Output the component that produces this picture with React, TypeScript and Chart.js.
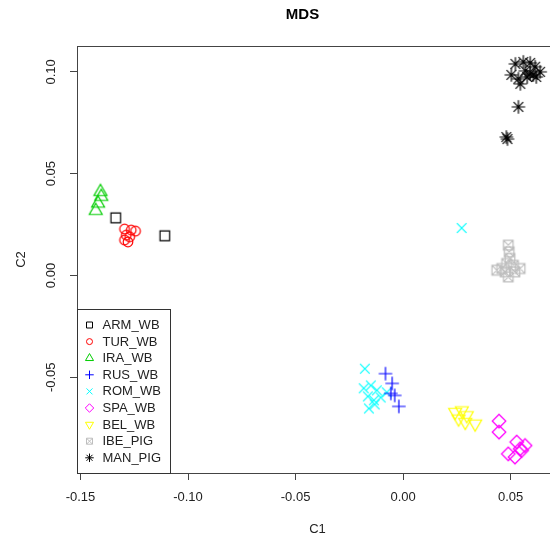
import React, { useEffect, useRef } from 'react';
import { Chart, registerables } from 'chart.js';

Chart.register(...registerables);

// ---- data -------------------------------------------------------------
const seriesNames = ['ARM_WB', 'TUR_WB', 'IRA_WB', 'RUS_WB', 'ROM_WB', 'SPA_WB', 'BEL_WB', 'IBE_PIG', 'MAN_PIG'];
const seriesColors = ['#000000', '#FF0000', '#00CD00', '#0000FF', '#00FFFF', '#FF00FF', '#FFFF00', '#BEBEBE', '#000000'];
const seriesSymbols = [0, 1, 2, 3, 4, 5, 6, 7, 8]; // R pch codes

const armC1 = [-0.1336, -0.1108];
const armC2 = [0.0283, 0.0195];

const turC1 = [-0.1295, -0.1264, -0.1244, -0.1287, -0.1271, -0.1295, -0.1279];
const turC2 = [0.0228, 0.0223, 0.0218, 0.0198, 0.019, 0.0174, 0.0165];

const iraC1 = [-0.1407, -0.1403, -0.1418, -0.1429];
const iraC2 = [0.0411, 0.0387, 0.0354, 0.0318];

const rusC1 = [-0.0082, -0.0051, -0.0057, -0.0039, -0.002];
const rusC2 = [-0.0482, -0.053, -0.0579, -0.0589, -0.0643];

const romC1 = [-0.0178, -0.0183, -0.015, -0.0122, -0.0164, -0.0136, -0.0104, -0.0159, -0.0132, -0.0076, 0.0272];
const romC2 = [-0.0458, -0.0554, -0.054, -0.0564, -0.0594, -0.0613, -0.0599, -0.0653, -0.0633, -0.0574, 0.0233];

const spaC1 = [0.0446, 0.0446, 0.0528, 0.0567, 0.0544, 0.0489, 0.052, 0.0551];
const spaC2 = [-0.0715, -0.0769, -0.0818, -0.0835, -0.0851, -0.0876, -0.0892, -0.0859];

const belC1 = [0.0242, 0.0273, 0.0296, 0.0258, 0.0289, 0.0335];
const belC2 = [-0.0671, -0.0663, -0.0687, -0.0703, -0.072, -0.0728];

const ibeC1 = [0.0489, 0.0493, 0.0497, 0.0481, 0.0513, 0.0435, 0.0544, 0.0474, 0.052, 0.0489, 0.0458];
const ibeC2 = [0.0149, 0.0116, 0.0084, 0.0059, 0.005, 0.0026, 0.0034, 0.0018, 0.0018, -0.0007, 0.0034];

const manC1 = [0.0522, 0.0559, 0.0591, 0.0614, 0.0637, 0.0503, 0.0536, 0.0568, 0.0591, 0.0605, 0.0577, 0.0619, 0.0545, 0.0536, 0.048, 0.0485];
const manC2 = [0.1039, 0.1049, 0.1044, 0.1025, 0.1, 0.0985, 0.0966, 0.1005, 0.099, 0.0985, 0.0975, 0.0975, 0.0941, 0.0828, 0.068, 0.067];

const seriesC1 = [armC1, turC1, iraC1, rusC1, romC1, spaC1, belC1, ibeC1, manC1];
const seriesC2 = [armC2, turC2, iraC2, rusC2, romC2, spaC2, belC2, ibeC2, manC2];

const xTicks = [-0.15, -0.1, -0.05, 0.0, 0.05];
const yTicks = [-0.05, 0.0, 0.05, 0.1];
const xRange = [-0.1516, 0.072];
const yRange = [-0.097, 0.1127];

const titleText = 'MDS';
const xTitle = 'C1';
const yTitle = 'C2';

// ---- markers (R pch look-alikes) -------------------------------------
function drawMarker(ctx: CanvasRenderingContext2D, pch: number, x: number, y: number, R: number, color: string, lw: number) {
  ctx.save();
  ctx.strokeStyle = color;
  ctx.lineWidth = lw;
  ctx.lineJoin = 'miter';
  ctx.beginPath();
  const s2 = Math.SQRT2 * R;
  switch (pch) {
    case 0:
      ctx.rect(x - R, y - R, 2 * R, 2 * R);
      break;
    case 1:
      ctx.arc(x, y, R, 0, Math.PI * 2);
      break;
    case 2: {
      const r = 1.5551 * R, yc = 0.7776 * R, xc = 1.3468 * R;
      ctx.moveTo(x, y - r);
      ctx.lineTo(x + xc, y + yc);
      ctx.lineTo(x - xc, y + yc);
      ctx.closePath();
      break;
    }
    case 3:
      ctx.moveTo(x - s2, y); ctx.lineTo(x + s2, y);
      ctx.moveTo(x, y - s2); ctx.lineTo(x, y + s2);
      break;
    case 4:
      ctx.moveTo(x - R, y - R); ctx.lineTo(x + R, y + R);
      ctx.moveTo(x - R, y + R); ctx.lineTo(x + R, y - R);
      break;
    case 5:
      ctx.moveTo(x, y - s2); ctx.lineTo(x + s2, y); ctx.lineTo(x, y + s2); ctx.lineTo(x - s2, y);
      ctx.closePath();
      break;
    case 6: {
      const r = 1.5551 * R, yc = 0.7776 * R, xc = 1.3468 * R;
      ctx.moveTo(x, y + r);
      ctx.lineTo(x + xc, y - yc);
      ctx.lineTo(x - xc, y - yc);
      ctx.closePath();
      break;
    }
    case 7:
      ctx.rect(x - R, y - R, 2 * R, 2 * R);
      ctx.moveTo(x - R, y - R); ctx.lineTo(x + R, y + R);
      ctx.moveTo(x - R, y + R); ctx.lineTo(x + R, y - R);
      break;
    case 8:
      ctx.moveTo(x - R, y - R); ctx.lineTo(x + R, y + R);
      ctx.moveTo(x - R, y + R); ctx.lineTo(x + R, y - R);
      ctx.moveTo(x - s2, y); ctx.lineTo(x + s2, y);
      ctx.moveTo(x, y - s2); ctx.lineTo(x, y + s2);
      break;
  }
  ctx.stroke();
  ctx.restore();
}

function markerCanvas(pch: number, color: string, R: number, lw: number): HTMLCanvasElement {
  const size = 20;
  const c = document.createElement('canvas');
  c.width = size;
  c.height = size;
  const cx = c.getContext('2d')!;
  drawMarker(cx, pch, size / 2, size / 2, R, color, lw);
  return c;
}

const FONT = '"Liberation Sans", Arial, sans-serif';

const framePlugin = {
  id: 'rFrame',
  afterDraw(chart: any) {
    const { ctx, chartArea } = chart;
    ctx.save();
    // top border of the plot box
    ctx.strokeStyle = '#444';
    ctx.lineWidth = 1;
    ctx.beginPath();
    ctx.moveTo(chartArea.left, Math.round(chartArea.top) + 0.5);
    ctx.lineTo(chartArea.right, Math.round(chartArea.top) + 0.5);
    ctx.stroke();

    // title
    ctx.fillStyle = '#000';
    ctx.font = 'bold 15px ' + FONT;
    ctx.textAlign = 'center';
    ctx.textBaseline = 'middle';
    ctx.fillText(titleText, (chartArea.left + chartArea.right) / 2 - 15, 15);

    // legend (bottom-left inside the plot box)
    const n = seriesNames.length;
    const rowH = 16.6;
    ctx.font = '13px ' + FONT;
    let textW = 0;
    seriesNames.forEach((s) => { textW = Math.max(textW, ctx.measureText(s).width); });
    const left = Math.round(chartArea.left) + 0.5;
    const bottom = Math.round(chartArea.bottom) + 0.5;
    const height = Math.round(rowH * n + 14.6);
    const width = Math.round(25 + textW + 9);
    const top = bottom - height;
    ctx.fillStyle = '#fff';
    ctx.fillRect(left, top, width, height);
    ctx.strokeStyle = '#333';
    ctx.strokeRect(left, top, width, height);
    ctx.textAlign = 'left';
    ctx.textBaseline = 'middle';
    for (let i = 0; i < n; i++) {
      const cy = top + 15.5 + i * rowH;
      drawMarker(ctx, seriesSymbols[i], left + 12, cy, 3, seriesColors[i], 1);
      ctx.fillStyle = '#222';
      ctx.fillText(seriesNames[i], left + 25, cy + 0.5);
    }
    ctx.restore();
  },
};

export default function App() {
  const ref = useRef<HTMLCanvasElement | null>(null);

  useEffect(() => {
    if (!ref.current) return;
    const datasets = seriesNames.map((name, i) => ({
      label: name,
      data: seriesC1[i].map((x, j) => ({ x, y: seriesC2[i][j] })),
      pointStyle: markerCanvas(seriesSymbols[i], seriesColors[i], 4.8, 1.2),
      pointRadius: 6,
      borderColor: seriesColors[i],
      backgroundColor: 'transparent',
      showLine: false,
    }));

    const chart = new Chart(ref.current, {
      type: 'scatter',
      data: { datasets },
      plugins: [framePlugin],
      options: {
        animation: false,
        responsive: true,
        maintainAspectRatio: false,
        events: [],
        layout: { padding: { top: 46, right: 5, left: 0, bottom: 0 } },
        plugins: {
          legend: { display: false },
          title: { display: false },
          tooltip: { enabled: false },
        },
        scales: {
          x: {
            type: 'linear',
            min: xRange[0],
            max: xRange[1],
            afterBuildTicks: (s: any) => { s.ticks = xTicks.map((v) => ({ value: v })); },
            afterFit: (s: any) => { s.height = 66; },
            grid: { drawOnChartArea: false, drawTicks: true, tickLength: 7, color: '#444' },
            border: { display: true, color: '#444', width: 1 },
            ticks: {
              color: '#222',
              font: { family: FONT, size: 13 },
              padding: 10,
              maxRotation: 0,
              minRotation: 0,
              autoSkip: false,
              callback: (v: any) => Number(v).toFixed(2),
            },
            title: { display: true, text: xTitle, color: '#222', font: { family: FONT, size: 13 }, padding: { top: 0, bottom: 2 } },
          },
          y: {
            type: 'linear',
            min: yRange[0],
            max: yRange[1],
            afterBuildTicks: (s: any) => { s.ticks = yTicks.map((v) => ({ value: v })); },
            afterFit: (s: any) => { s.width = 77; },
            grid: { drawOnChartArea: false, drawTicks: true, tickLength: 7, color: '#444' },
            border: { display: true, color: '#444', width: 1 },
            ticks: {
              color: '#222',
              font: { family: FONT, size: 13 },
              padding: 4,
              minRotation: 90,
              maxRotation: 90,
              crossAlign: 'center',
              autoSkip: false,
              callback: (v: any) => Number(v).toFixed(2),
            },
            title: { display: true, text: yTitle, color: '#222', font: { family: FONT, size: 13 }, padding: { top: 14, bottom: 0 } },
          },
        },
      } as any,
    });
    return () => chart.destroy();
  }, []);

  return (
    <div style={{ position: 'fixed', left: 0, top: 0, width: 550, height: 539, overflow: 'hidden', background: '#fff' }}>
      <div style={{ position: 'relative', width: 565, height: 539 }}>
        <canvas ref={ref} />
      </div>
    </div>
  );
}
